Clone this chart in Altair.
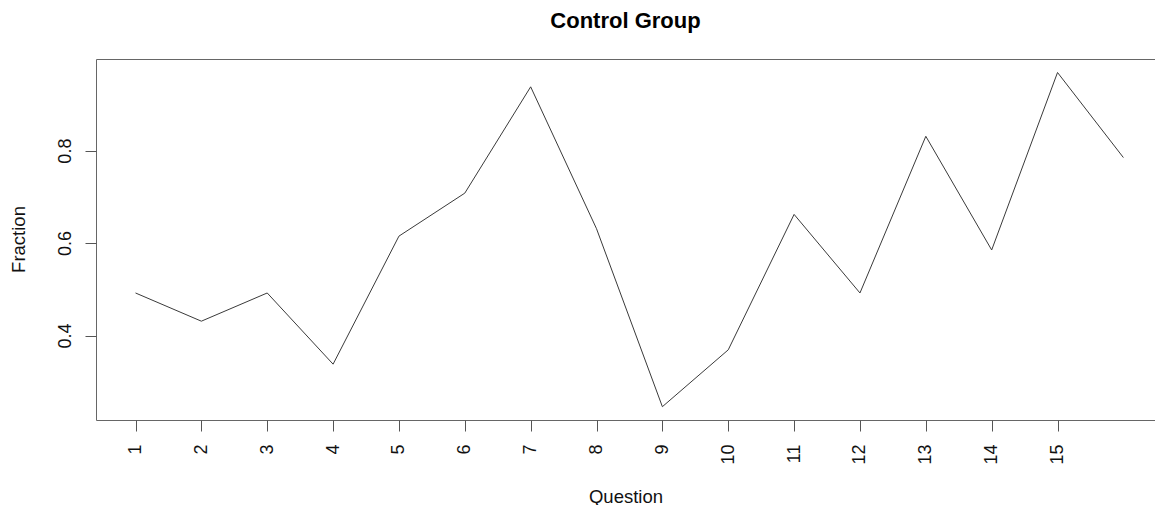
import altair as alt
import pandas as pd

questions = list(range(1, 17))
fraction = [0.492, 0.431, 0.492, 0.338, 0.615, 0.708, 0.938, 0.631,
            0.246, 0.369, 0.662, 0.492, 0.831, 0.585, 0.969, 0.785]
x_ticks = list(range(1, 16))
y_ticks = [0.4, 0.6, 0.8]

df = pd.DataFrame({"Question": questions, "Fraction": fraction})

FONT = "Liberation Sans"

chart = alt.Chart(df).mark_line(color="#3a3a3a", strokeWidth=1).encode(
    x=alt.X(
        "Question:Q",
        scale=alt.Scale(domain=[0.4, 16.48], nice=False, zero=False),
        axis=alt.Axis(
            values=x_ticks, format="d", labelAngle=270, labelAlign="right",
            labelBaseline="middle", labelPadding=13, tickSize=11, domain=False,
            grid=False, title="Question", titleY=82, titleBaseline="alphabetic",
        ),
    ),
    y=alt.Y(
        "Fraction:Q",
        scale=alt.Scale(domain=[0.2172, 0.9982], nice=False, zero=False),
        axis=alt.Axis(
            values=y_ticks, format=".1f", labelAngle=270, labelAlign="center",
            labelBaseline="alphabetic", labelPadding=15, tickSize=11, domain=False,
            grid=False, title="Fraction", titleAngle=270, titleX=-72, titleY=180,
            titleAlign="center", titleBaseline="alphabetic",
        ),
    ),
).properties(
    width=1059,
    height=361,
    title=alt.TitleParams(
        "Control Group", font=FONT, fontSize=22, fontWeight="bold", color="#000",
        anchor="middle", frame="group", offset=26,
    ),
    autosize=alt.AutoSizeParams(type="none"),
    padding={"left": 88, "top": 51, "right": 0, "bottom": 85},
).configure_view(
    stroke="#666", strokeWidth=1
).configure_axis(
    labelFont=FONT, labelFontSize=18, labelColor="#111",
    titleFont=FONT, titleFontSize=18.5, titleFontWeight="normal", titleColor="#111",
    tickColor="#555", tickWidth=1,
)

chart.save("out.html", embed_options={"renderer": "svg", "actions": False})
